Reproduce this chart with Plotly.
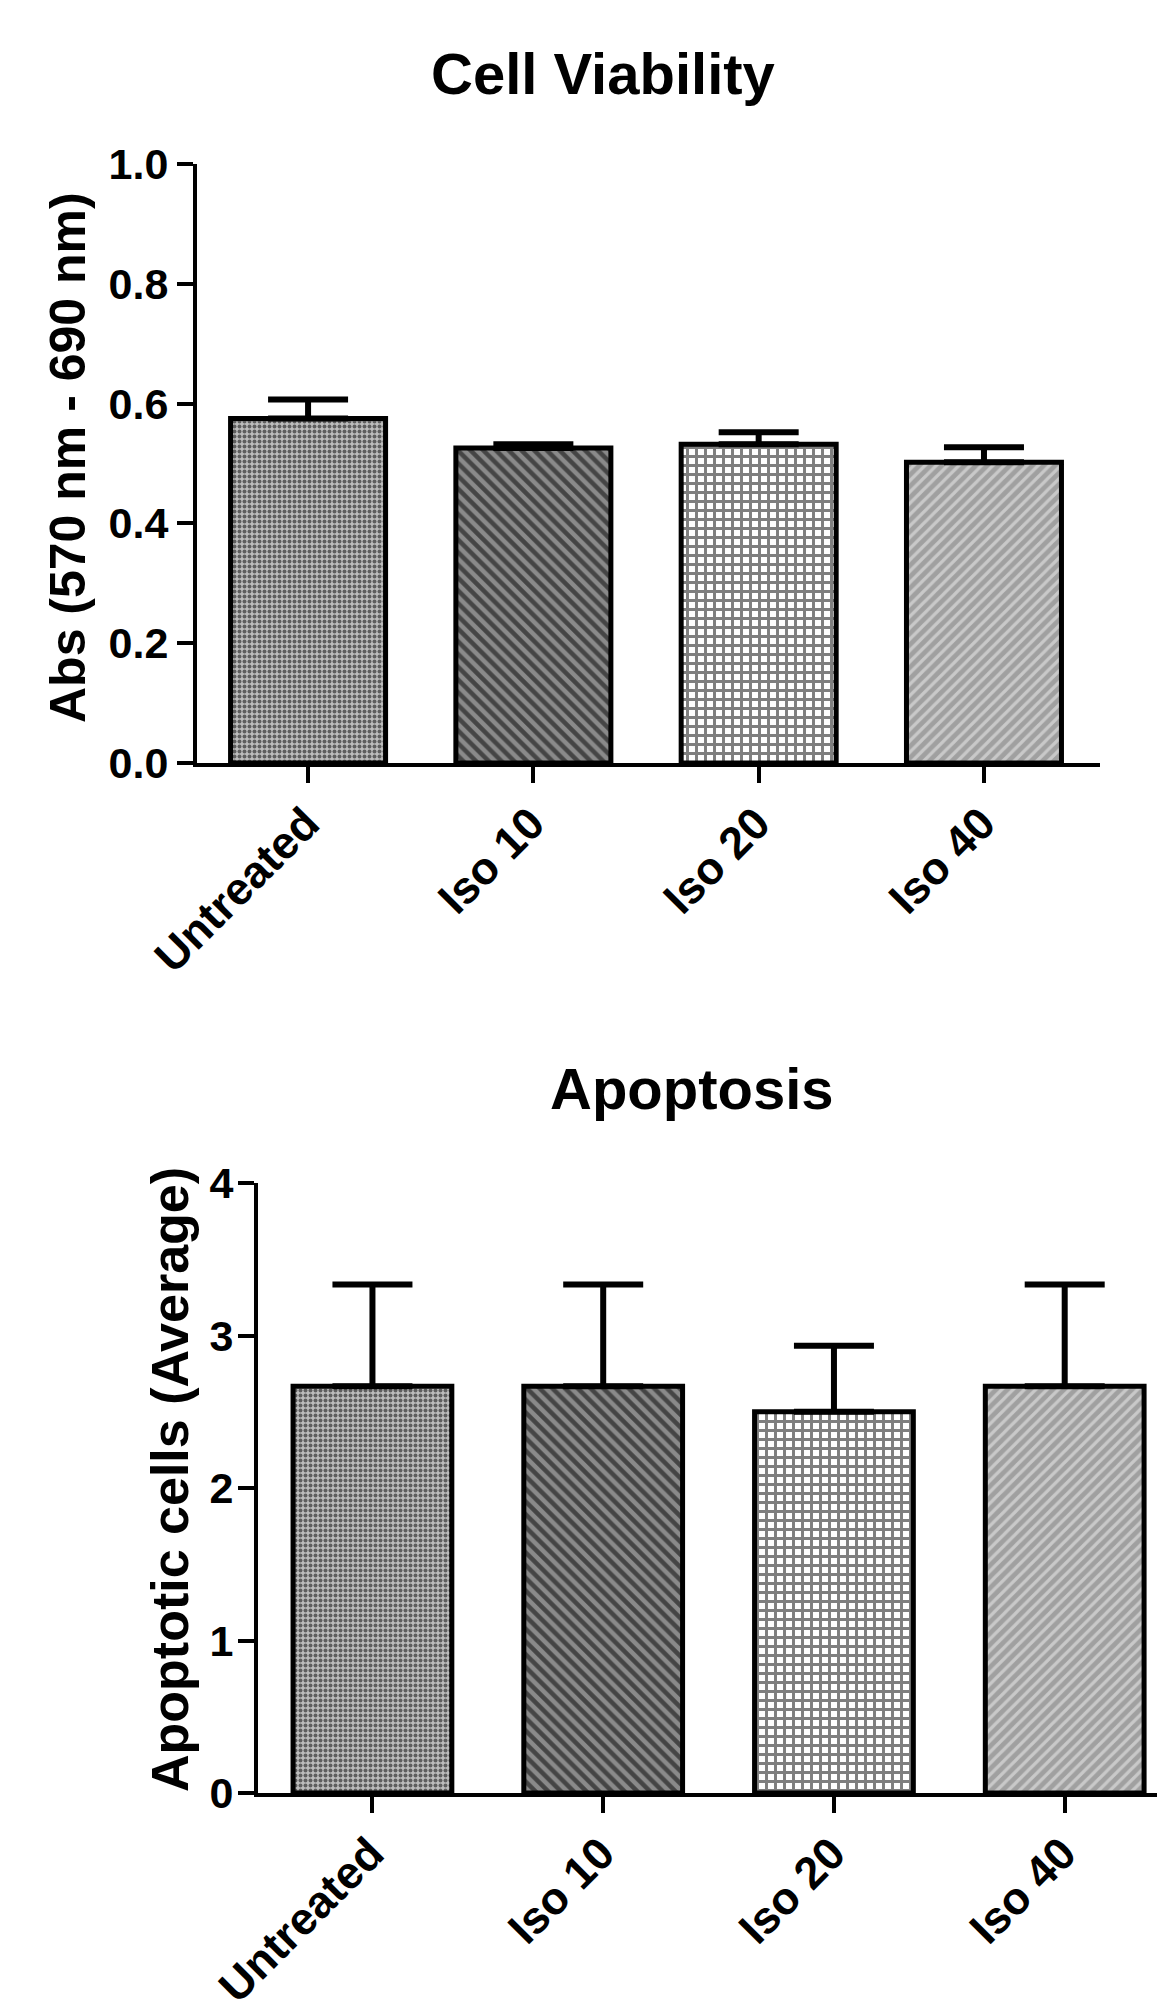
import plotly.graph_objects as go

# ---- data ----
categories = ["Untreated", "Iso 10", "Iso 20", "Iso 40"]
viability_mean = [0.575, 0.526, 0.532, 0.502]
viability_sem = [0.032, 0.006, 0.020, 0.025]
apoptosis_mean = [2.667, 2.667, 2.5, 2.667]
apoptosis_sem = [0.667, 0.667, 0.433, 0.667]
viability_ticks = [0.0, 0.2, 0.4, 0.6, 0.8, 1.0]
viability_ticktext = ["0.0", "0.2", "0.4", "0.6", "0.8", "1.0"]
apoptosis_ticks = [0, 1, 2, 3, 4]

W, H = 1157, 2005
FONT = "Liberation Sans, Arial, sans-serif"

patterns = [
    dict(shape=".", fgcolor="#000000", bgcolor="#bdbdbd", size=5, solidity=0.5),
    dict(shape="\\", fgcolor="#000000", bgcolor="#8a8a8a", size=9, solidity=0.5),
    dict(shape="+", fgcolor="#000000", bgcolor="#ffffff", size=9, solidity=0.55),
    dict(shape="/", fgcolor="#f2f2f2", bgcolor="#a0a0a0", size=8, solidity=0.4),
]

fig = go.Figure()
xs = list(range(len(categories)))

def add_bars(means, errs, xa, ya):
    for i in xs:
        fig.add_trace(go.Bar(
            x=[i], y=[means[i]], width=0.688,
            marker=dict(color="white", pattern=patterns[i],
                        line=dict(color="black", width=5)),
            error_y=dict(type="data", array=[errs[i]], arrayminus=[0], symmetric=False,
                         thickness=6, width=40, color="black"),
            xaxis=xa, yaxis=ya, showlegend=False, hoverinfo="skip",
        ))

add_bars(viability_mean, viability_sem, "x", "y")
add_bars(apoptosis_mean, apoptosis_sem, "x2", "y2")

axis_common = dict(showline=True, linewidth=4, linecolor="black", ticks="outside",
                   tickwidth=4, tickcolor="black", ticklen=16, showgrid=False, zeroline=False,
                   automargin=False)
ytick_font = dict(family=FONT, size=43, color="black", weight="bold")
xtick_font = dict(family=FONT, size=45, color="black", weight="bold")

fig.update_layout(
    width=W, height=H, margin=dict(l=0, r=0, t=0, b=0, autoexpand=False),
    plot_bgcolor="white", paper_bgcolor="white", barmode="overlay",
    xaxis=dict(domain=[197 / W, 1100 / W], anchor="y", range=[-0.493, 3.515],
               tickvals=xs, ticktext=categories, tickangle=-45, tickfont=xtick_font,
               ticklabelshift=-2, ticklabelstandoff=-4, **axis_common),
    yaxis=dict(domain=[1 - 763 / H, 1 - 164 / H], anchor="x", range=[0, 1.0],
               tickvals=viability_ticks, ticktext=viability_ticktext, tickfont=ytick_font,
               ticklabelstandoff=0, **axis_common),
    xaxis2=dict(domain=[258 / W, 1.0], anchor="y2", range=[-0.496, 3.40],
                tickvals=xs, ticktext=categories, tickangle=-45, tickfont=xtick_font,
                ticklabelshift=-2, ticklabelstandoff=-4, **axis_common),
    yaxis2=dict(domain=[1 - 1793 / H, 1 - 1183 / H], anchor="x2", range=[0, 4],
                tickvals=apoptosis_ticks, tickfont=ytick_font, ticklabelstandoff=-4, **axis_common),
)

title_font = dict(family=FONT, size=58, color="black", weight="bold")
axt_font = dict(family=FONT, size=50, color="black", weight="bold")
axt_font2 = dict(family=FONT, size=52, color="black", weight="bold")
fig.add_annotation(text="Cell Viability", xref="paper", yref="paper", x=603 / W, y=1 - 73 / H,
                   xanchor="center", yanchor="middle", showarrow=False, font=title_font)
fig.add_annotation(text="Apoptosis", xref="paper", yref="paper", x=692 / W, y=1 - 1088 / H,
                   xanchor="center", yanchor="middle", showarrow=False, font=title_font)
fig.add_annotation(text="Abs (570 nm - 690 nm)", xref="paper", yref="paper", x=68 / W, y=1 - 458 / H,
                   xanchor="center", yanchor="middle", textangle=-90, showarrow=False, font=axt_font)
fig.add_annotation(text="Apoptotic cells (Average)", xref="paper", yref="paper", x=170 / W, y=1 - 1480 / H,
                   xanchor="center", yanchor="middle", textangle=-90, showarrow=False, font=axt_font2)

fig.write_html("out.html", config={"displayModeBar": False, "staticPlot": True},
               post_script="document.body.style.margin='0px';document.body.style.overflow='hidden';")
